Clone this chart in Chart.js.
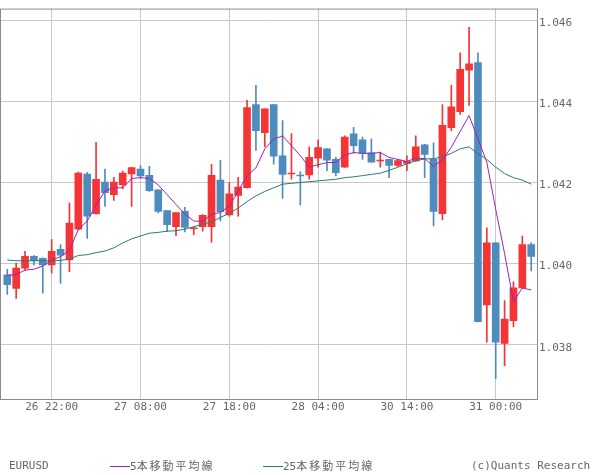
<!DOCTYPE html>
<html><head><meta charset="utf-8">
<script src="https://cdn.jsdelivr.net/npm/chart.js@4/dist/chart.umd.min.js"></script>
<style>
html,body{margin:0;padding:0;background:#fff;}
#wrap{position:relative;width:600px;height:475px;overflow:hidden;}
canvas{position:absolute;left:0;top:0;}
.lg{position:absolute;font-family:"DejaVu Sans Mono",monospace;font-size:11px;color:#666;white-space:nowrap;line-height:13px;}
.jp{font-family:"Noto Sans CJK JP",sans-serif;letter-spacing:2px;font-size:11px;}
.sw{display:inline-block;width:20px;height:0;border-top:1px solid;vertical-align:middle;margin-right:0;position:relative;top:-1px;}
</style></head>
<body><div id="wrap"><canvas id="c" width="600" height="475"></canvas>
<div class="lg" style="left:9px;top:459px;">EURUSD</div>
<div class="lg" style="left:110px;top:459px;"><span class="sw" style="border-color:#a020c0"></span>5<span class="jp">本移動平均線</span></div>
<div class="lg" style="left:263px;top:459px;"><span class="sw" style="border-color:#2a7a78"></span>25<span class="jp">本移動平均線</span></div>
<div class="lg" style="left:471px;top:459px;">(c)Quants Research</div>
</div>
<script>
const openP = [1.03972,1.03939,1.03989,1.04018,1.04013,1.03997,1.04035,1.04009,1.04085,1.04221,
1.04123,1.04201,1.04170,1.04194,1.04221,1.04233,1.04218,1.04182,1.04131,1.04091,
1.04129,1.04086,1.04091,1.04091,1.04206,1.04120,1.04168,1.04187,1.04392,1.04323,
1.04392,1.04266,1.04221,1.04217,1.04219,1.04260,1.04283,1.04257,1.04238,1.04320,
1.04305,1.04273,1.04253,1.04257,1.04242,1.04247,1.04253,1.04293,1.04257,1.04123,
1.04335,1.04375,1.04477,1.04496,1.03898,1.04051,1.03803,1.03859,1.03940,1.04047];
const highP = [1.03986,1.04001,1.04030,1.04020,1.04014,1.04059,1.04047,1.04150,1.04226,1.04225,
1.04299,1.04233,1.04213,1.04228,1.04237,1.04242,1.04240,1.04182,1.04131,1.04126,
1.04139,1.04091,1.04121,1.04245,1.04255,1.04200,1.04213,1.04403,1.04440,1.04382,
1.04393,1.04353,1.04321,1.04227,1.04288,1.04305,1.04284,1.04262,1.04315,1.04336,
1.04312,1.04307,1.04275,1.04258,1.04257,1.04266,1.04315,1.04294,1.04298,1.04392,
1.04440,1.04520,1.04583,1.04520,1.04088,1.04052,1.03909,1.03955,1.04068,1.04051];
const lowP = [1.03924,1.03914,1.03983,1.03997,1.03927,1.03977,1.03951,1.03980,1.04083,1.04062,
1.04122,1.04141,1.04156,1.04184,1.04141,1.04210,1.04178,1.04125,1.04079,1.04069,
1.04078,1.04071,1.04080,1.04053,1.04105,1.04117,1.04117,1.04186,1.04279,1.04288,
1.04245,1.04161,1.04208,1.04145,1.04208,1.04238,1.04229,1.04216,1.04237,1.04272,
1.04257,1.04250,1.04238,1.04212,1.04240,1.04229,1.04252,1.04212,1.04093,1.04108,
1.04328,1.04368,1.04390,1.03856,1.03806,1.03716,1.03748,1.03844,1.03939,1.03982];
const closeP = [1.03948,1.03989,1.04018,1.04008,1.03997,1.04030,1.04021,1.04100,1.04223,1.04117,
1.04208,1.04175,1.04201,1.04223,1.04237,1.04216,1.04180,1.04129,1.04096,1.04126,
1.04089,1.04087,1.04119,1.04218,1.04128,1.04172,1.04189,1.04385,1.04328,1.04382,
1.04265,1.04220,1.04222,1.04216,1.04262,1.04286,1.04255,1.04224,1.04312,1.04291,
1.04272,1.04250,1.04254,1.04242,1.04254,1.04252,1.04288,1.04269,1.04129,1.04341,
1.04387,1.04479,1.04493,1.03857,1.04051,1.03806,1.03863,1.03940,1.04047,1.04018];
const ma5 = [1.03971,1.03973,1.03984,1.03986,1.03994,1.04009,1.04017,1.04033,1.04084,1.04105,
1.04144,1.04179,1.04187,1.04187,1.04210,1.04212,1.04210,1.04194,1.04170,1.04146,
1.04122,1.04105,1.04104,1.04122,1.04126,1.04142,1.04178,1.04217,1.04236,1.04283,
1.04307,1.04315,1.04291,1.04266,1.04238,1.04244,1.04249,1.04250,1.04268,1.04274,
1.04272,1.04272,1.04274,1.04262,1.04257,1.04252,1.04260,1.04259,1.04240,1.04256,
1.04287,1.04326,1.04365,1.04308,1.04250,1.04134,1.04025,1.03906,1.03940,1.03935];
const ma25 = [1.04009,1.04007,1.04007,1.04007,1.04007,1.04007,1.04008,1.04011,1.04020,1.04022,
1.04027,1.04031,1.04039,1.04051,1.04061,1.04068,1.04075,1.04077,1.04080,1.04081,
1.04085,1.04091,1.04097,1.04103,1.04114,1.04124,1.04137,1.04153,1.04167,1.04178,
1.04187,1.04196,1.04198,1.04200,1.04202,1.04204,1.04206,1.04208,1.04212,1.04214,
1.04217,1.04220,1.04223,1.04230,1.04238,1.04246,1.04254,1.04258,1.04259,1.04263,
1.04272,1.04283,1.04288,1.04271,1.04257,1.04238,1.04222,1.04212,1.04206,1.04196];
const xTickIndex = [5, 15, 25, 35, 45, 55];
const xTickLabels = ['26 22:00', '27 08:00', '27 18:00', '28 04:00', '30 14:00', '31 00:00'];
const yTicks = [1.038, 1.040, 1.042, 1.044, 1.046];

const UP = '#f53535', DOWN = '#4f8cbe';
const colorOf = i => closeP[i] >= openP[i] ? UP : DOWN;
const idx = openP.map((_, i) => i);

const frame = {
  id: 'frame',
  afterDraw(chart) {
    const a = chart.chartArea, c = chart.ctx;
    c.save(); c.strokeStyle = '#8a8a8a'; c.lineWidth = 1;
    c.strokeRect(a.left + 0.5, a.top + 0.5, a.right - a.left, a.bottom - a.top);
    c.restore();
  }
};

new Chart(document.getElementById('c'), {
  type: 'bar',
  data: {
    datasets: [
      { type: 'line', label: 'ma5', data: idx.map(i => ({x: i, y: ma5[i]})), borderColor: '#a020c0', borderWidth: 1, pointRadius: 0, tension: 0, order: 0 },
      { type: 'line', label: 'ma25', data: idx.map(i => ({x: i, y: ma25[i]})), borderColor: '#2a7a78', borderWidth: 1, pointRadius: 0, tension: 0, order: 0 },
      { label: 'body', data: idx.map(i => ({x: i, y: [openP[i], closeP[i]]})), backgroundColor: ctx => colorOf(ctx.dataIndex), barThickness: 7, minBarLength: 1, grouped: false, borderWidth: 0, order: 1 },
      { label: 'wick', data: idx.map(i => ({x: i, y: [lowP[i], highP[i]]})), backgroundColor: ctx => colorOf(ctx.dataIndex), barThickness: 1, grouped: false, borderWidth: 0, order: 2 }
    ]
  },
  options: {
    responsive: false, animation: false, devicePixelRatio: 1,
    layout: { padding: { left: 0, top: 0, right: 0, bottom: 56 } },
    plugins: { legend: { display: false }, tooltip: { enabled: false } },
    scales: {
      x: {
        type: 'linear', min: -0.82, max: 59.65, offset: false,
        grid: { color: '#c8c8c8', drawTicks: false, offset: false },
        border: { display: false },
        afterBuildTicks: s => { s.ticks = xTickIndex.map(v => ({value: v})); },
        afterFit: s => { s.height = 20; },
        ticks: { autoSkip: false, maxRotation: 0, padding: 2, color: '#666',
          font: { family: 'DejaVu Sans Mono', size: 11 },
          callback: v => xTickLabels[xTickIndex.indexOf(v)] }
      },
      y: {
        position: 'right', min: 1.03666, max: 1.04629,
        grid: { color: '#c8c8c8', drawTicks: false },
        border: { display: false },
        afterBuildTicks: s => { s.ticks = yTicks.map(v => ({value: v})); },
        afterFit: s => { s.width = 63; },
        ticks: { padding: 2, labelOffset: 3, color: '#666',
          font: { family: 'DejaVu Sans Mono', size: 11 },
          callback: v => v.toFixed(3) }
      }
    }
  },
  plugins: [frame]
});
</script>
</body></html>
